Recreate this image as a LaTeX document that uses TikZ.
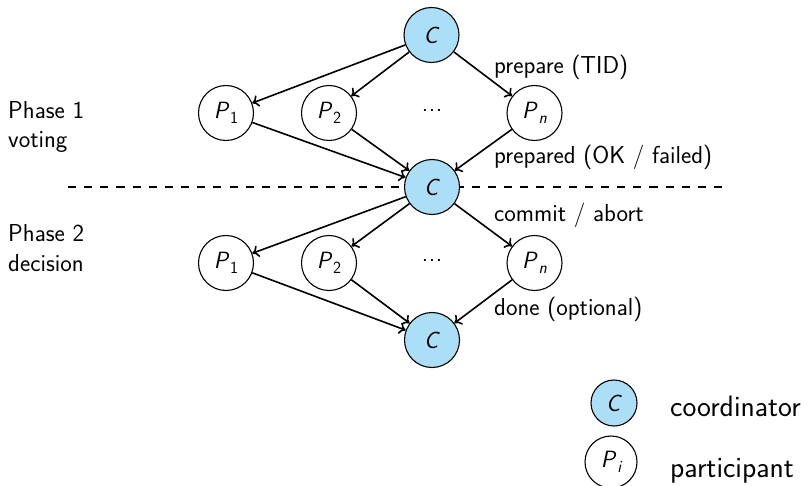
\documentclass[tikz,border=0pt]{standalone}
\usepackage{fontspec}
\usetikzlibrary{arrows.meta}
\definecolor{coordfill}{RGB}{171,223,248}
% sans-serif italic symbols with a subscript
\newcommand\pvar[2]{\textit{#1}\kern0.5pt\raisebox{-0.22em}{\fontsize{17}{17}\selectfont #2}}
\begin{document}
\begin{tikzpicture}[x=1pt,y=-1pt,
  font=\sffamily\fontsize{24.5}{29}\selectfont,
  every node/.style={inner sep=0pt},
  coord/.style={circle,draw,line width=1.1pt,fill=coordfill,minimum size=55pt,
    font=\sffamily\fontsize{23.5}{28}\selectfont},
  part/.style={circle,draw,line width=1.1pt,fill=white,minimum size=55pt,
    font=\sffamily\fontsize{23.5}{28}\selectfont},
  msg/.style={line width=1.6pt,-{To[length=6.5pt,width=12pt]}},
  lbl/.style={anchor=base west},
  legtext/.style={anchor=base west,font=\sffamily\fontsize{29.5}{34}\selectfont}]
\useasboundingbox (0,0) rectangle (808,486);

% separator between the two phases
\coordinate (sepL) at (68,187);
\coordinate (sepR) at (722,187);
\draw[line width=1.5pt,dash pattern=on 8.1pt off 8.05pt] (sepL) -- (sepR);

% phase 1: voting
\node[coord] (c0) at (431.5,35) {\textit{C}};
\node[part] (p1a) at (226,113) {\pvar{P}{1}};
\node[part] (p2a) at (329,113) {\pvar{P}{2}};
\node (dotsa) at (432,111) {.\hspace{0.6pt}.\hspace{0.6pt}.};
\node[part] (pna) at (534.5,113) {\pvar{P}{\itshape n}};
\node[coord] (c1) at (432,187) {\textit{C}};

% phase 2: decision
\node[part] (p1b) at (226,263) {\pvar{P}{1}};
\node[part] (p2b) at (329,263) {\pvar{P}{2}};
\node (dotsb) at (432,261) {.\hspace{0.6pt}.\hspace{0.6pt}.};
\node[part] (pnb) at (534.5,263) {\pvar{P}{\itshape n}};
\node[coord] (c2) at (432,340) {\textit{C}};

\draw[msg] (c0) -- (p1a);
\draw[msg] (c0) -- (p2a);
\draw[msg] (c0) -- (pna);
\draw[msg] (p1a) -- (c1);
\draw[msg] (p2a) -- (c1);
\draw[msg] (pna) -- (c1);

\draw[msg] (c1) -- (p1b);
\draw[msg] (c1) -- (p2b);
\draw[msg] (c1) -- (pnb);
\draw[msg] (p1b) -- (c2);
\draw[msg] (p2b) -- (c2);
\draw[msg] (pnb) -- (c2);

% message labels
\node[lbl] (l1) at (494,74) {prepare (TID)};
\node[lbl] (l2) at (494,164) {prepared (OK / failed)};
\node[lbl] (l3) at (494,222) {commit / abort};
\node[lbl] (l4) at (494,315) {done (optional)};

% phase names
\node[lbl] (ph1) at (8,119) {Phase 1};
\node[lbl] (ph1b) at (8,148) {voting};
\node[lbl] (ph2) at (8,242) {Phase 2};
\node[lbl] (ph2b) at (8,272) {decision};

% legend
\node[coord,minimum size=46pt] (legc) at (614,403) {\textit{C}};
\node[legtext] (legct) at (670,416) {coordinator};
\node[part,minimum size=52pt] (legp) at (611,462) {\pvar{P}{\itshape i}};
\node[legtext] (legpt) at (670,477) {participant};
\end{tikzpicture}
\end{document}
